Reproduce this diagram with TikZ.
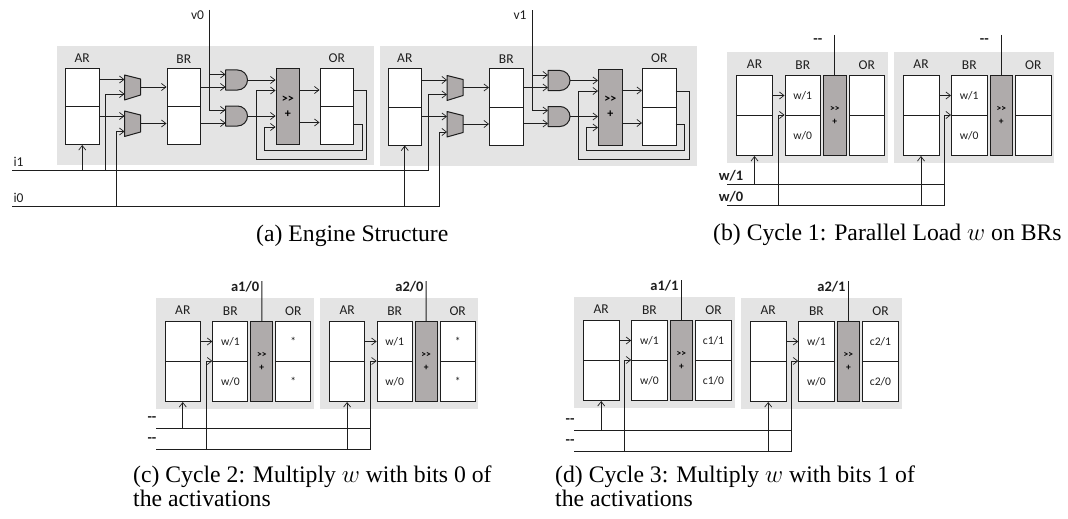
\documentclass[tikz,border=0pt]{standalone}
\usepackage{fontspec}
\usepackage{xcolor}
\usepackage{tikz}
\usetikzlibrary{calc,arrows.meta}
\setmainfont{Liberation Serif}
\newfontfamily\lblfont{Carlito}
\newcommand{\twodash}{-{}-}
\definecolor{panelbg}{HTML}{E4E4E4}
\definecolor{gatefill}{HTML}{AFABAB}
\definecolor{ink}{HTML}{1E1E1E}
\tikzset{
  panel/.style={fill=panelbg},
  wire/.style={draw=ink, line width=0.9pt},
  arr/.style={wire, -{Straight Barb[length=4.5pt,width=7pt,line width=0.7pt]}},
  cell/.style={draw=ink, fill=white, line width=1pt, anchor=north west, inner sep=0pt, minimum height=38pt, minimum width=33.5pt, lab},
  smallcell/.style={cell, minimum height=40pt},
  adder/.style={draw=ink, fill=gatefill, line width=1pt, anchor=north west, inner sep=0pt, align=center},
  gate/.style={draw=ink, fill=gatefill, line width=1pt, line join=round},
  lab/.style={text=ink, font=\lblfont\fontsize{11.6}{13}\selectfont},
  labb/.style={text=ink, font=\lblfont\fontsize{13.5}{15}\selectfont},
  labs/.style={text=ink, font=\lblfont\bfseries\fontsize{14.5}{15}\selectfont},
  captxt/.style={anchor=base west, align=left, inner sep=0pt, font=\fontsize{23.7}{24}\selectfont},
}
\begin{document}
\begin{tikzpicture}[x=1pt,y=-1pt]
  \useasboundingbox (0,0) rectangle (1068,519);
  % engine structure
  \foreach \n/\x/\yo/\vlab in {0/0/0/v0, 1/322.5/0.5/v1} {
    \begin{scope}[shift={(\x,\yo)}]
      \fill[panel] (57,46) rectangle (374,165);
      \node[cell] (arT\n) at (65,68) {};
      \node[cell] (arB\n) at (65,106) {};
      \node[cell] (brT\n) at (166.5,68) {};
      \node[cell] (brB\n) at (166.5,106) {};
      \node[cell] (orT\n) at (319.5,68) {};
      \node[cell] (orB\n) at (319.5,106) {};
      \node[adder, minimum width=23.5pt, minimum height=75.5pt, font=\lblfont\bfseries\fontsize{12}{15}\selectfont] (add\n) at (275.5,68.5) {>>\\+};
      \node[labb] (arL\n) at ($(arT\n.north)+(0,-10)$) {AR};
      \node[labb] (brL\n) at ($(brT\n.north)+(0,-9)$) {BR};
      \node[labb] (orL\n) at ($(orT\n.north)+(0,-10)$) {OR};
      % muxes and gates
      \draw[gate] (124.5,75) -- (140.5,79) -- (140.5,95) -- (124.5,100) -- cycle;
      \draw[gate] (124.5,111) -- (140.5,115) -- (140.5,132) -- (124.5,136.5) -- cycle;
      \draw[gate] (225.5,70) -- (237.5,70) arc[start angle=90,end angle=-90,radius=10pt] -- (225.5,90) -- cycle;
      \draw[gate] (225.5,106) -- (237.5,106) arc[start angle=90,end angle=-90,radius=10pt] -- (225.5,126) -- cycle;
      \coordinate (mAi\n) at (124.5,79.5);
      \coordinate (mAj\n) at (124.5,94);
      \coordinate (mAo\n) at (140.5,87);
      \coordinate (mBi\n) at (124.5,116);
      \coordinate (mBj\n) at (124.5,131.5);
      \coordinate (mBo\n) at (140.5,123.5);
      \coordinate (gAi\n) at (225.5,74.5);
      \coordinate (gAj\n) at (225.5,87);
      \coordinate (gAo\n) at (247.5,80);
      \coordinate (gBi\n) at (225.5,110);
      \coordinate (gBj\n) at (225.5,123);
      \coordinate (gBo\n) at (247.5,116);
      \coordinate (jA\n) at (105.5,94);
      \coordinate (jB\n) at (116.5,131.5);
      \coordinate (vt\n) at (209.5,10);
      \coordinate (sA\n) at (353,90.5);
      \coordinate (sB\n) at (353,124);
      \coordinate (fA\n) at (366.5,159);
      \coordinate (fB\n) at (362,150);
      \coordinate (iA\n) at (256,90.5);
      \coordinate (iB\n) at (264,127);
      \coordinate (oA\n) at (299,90);
      \coordinate (oB\n) at (299,122.5);
      \draw[arr] (arT\n.east |- mAi\n) -- (mAi\n);
      \draw[arr] (arB\n.east |- mBi\n) -- (mBi\n);
      \draw[arr] (mAo\n) -- (mAo\n -| brT\n.west);
      \draw[arr] (mBo\n) -- (mBo\n -| brB\n.west);
      \draw[arr] (brT\n.east |- gAj\n) -- (gAj\n);
      \draw[arr] (brB\n.east |- gBj\n) -- (gBj\n);
      \draw[arr] (gAo\n) -- (gAo\n -| add\n.west);
      \draw[arr] (gBo\n) -- (gBo\n -| add\n.west);
      \draw[arr] (oA\n) -- (oA\n -| orT\n.west);
      \draw[arr] (oB\n) -- (oB\n -| orB\n.west);
      \draw[arr] (vt\n) |- (gBi\n);
      \draw[arr] (vt\n |- gAi\n) -- (gAi\n);
      \draw[arr] (sA\n) -| (fA\n) -| (iA\n) -- (iA\n -| add\n.west);
      \draw[arr] (sB\n) -| (fB\n) -| (iB\n) -- (iB\n -| add\n.west);
      \node[labb, anchor=east] (vL\n) at ($(vt\n)+(-2,5)$) {\vlab};
    \end{scope}
  }
  \coordinate (iOne) at (12,170.5);
  \coordinate (iZero) at (12,206.5);
  \node[labb, anchor=west] (iOneL) at (10,162) {i1};
  \node[labb, anchor=west] (iZeroL) at (10,197.5) {i0};
  \draw[arr] (iOne) -| (jA1) -- (mAj1);
  \draw[arr] (iZero) -| (jB1) -- (mBj1);
  \draw[arr] (iOne -| jA0) -- (jA0) -- (mAj0);
  \draw[arr] (iZero -| jB0) -- (jB0) -- (mBj0);
  \draw[arr] (iOne -| arB0.south) -- (arB0.south);
  \draw[arr] (iZero -| arB1.south) -- (arB1.south);
  % cycle pictures
  \foreach \un/\x/\y/\sx/\oa/\ob/\toplab in {
    bA/727.3/52/1/{}/{}/\twodash, bB/893.8/52/1/{}/{}/\twodash,
    cA/156/298/0.985/{*}/{*}/{a1/0}, cB/320.3/298/0.985/{*}/{*}/{a2/0},
    dA/574/297/1/{c1/1}/{c1/0}/{a1/1}, dB/741/298/1/{c2/1}/{c2/0}/{a2/1}} {
    \begin{scope}[shift={(\x,\y)}, xscale=\sx]
      \fill[panel] (0,0) rectangle (160.5,111);
      \node[smallcell, minimum width=\sx*36pt] (ar\un T) at (8.7,23) {};
      \node[smallcell, minimum width=\sx*36pt] (ar\un B) at (8.7,63) {};
      \node[smallcell, minimum width=\sx*35.5pt] (br\un T) at (57.2,23) {w/1};
      \node[smallcell, minimum width=\sx*35.5pt] (br\un B) at (57.2,63) {w/0};
      \node[adder, minimum width=\sx*22.5pt, minimum height=80pt, font=\lblfont\bfseries\fontsize{9.5}{12.5}\selectfont] (add\un) at (95.7,23) {>>\\+};
      \node[smallcell, minimum width=\sx*35.5pt] (or\un T) at (121.2,23) {\oa};
      \node[smallcell, minimum width=\sx*35.5pt] (or\un B) at (121.2,63) {\ob};
      \node[labb] (arL\un) at ($(ar\un T.north)+(0,-11)$) {AR};
      \node[labb] (brL\un) at ($(br\un T.north)+(0,-10)$) {BR};
      \node[labb] (orL\un) at ($(or\un T.north)+(0,-10)$) {OR};
      \coordinate (top\un) at ($(add\un.north)+(0,-40)$);
      \draw[wire] (top\un) -- (add\un.north);
      \node[labs] (topL\un) at ($(top\un)+(-17,6)$) {\toplab};
      \coordinate (jog\un) at ($(br\un B.north west)+(-6.3,0)$);
      \draw[arr] (ar\un T.east) -- (br\un T.west);
    \end{scope}
  }
  % load lines
  \foreach \f/\ya/\yb/\xl/\lx/\la/\lb in {
    b/184/205/727/731/{w/1}/{w/0},
    c/428/449/156/152/\twodash/\twodash,
    d/430/451/574/570/\twodash/\twodash} {
    \coordinate (one\f) at (\xl,\ya);
    \coordinate (zero\f) at (\xl,\yb);
    \node[labs] (oneL\f) at ($(\lx,\ya)+(0,-8.5)$) {\la};
    \node[labs] (zeroL\f) at ($(\lx,\yb)+(0,-8.5)$) {\lb};
    \draw[arr] (one\f) -| (jog\f B) -- (br\f BB.north west);
    \draw[arr] (zero\f) -| (jog\f A) -- (br\f AB.north west);
    \draw[wire] (zero\f) -- (zero\f -| jog\f B) -- (one\f -| jog\f B);
    \draw[arr] (one\f -| ar\f AB.south) -- (ar\f AB.south);
    \draw[arr] (zero\f -| ar\f BB.south) -- (ar\f BB.south);
  }
  % captions
  \node[captxt] (capA) at (256,241.5) {(a) Engine Structure};
  \node[captxt] (capB) at (713,240) {(b) Cycle 1: Parallel Load $w$ on BRs};
  \node[captxt] (capC) at (133,506) {(c) Cycle 2: Multiply $w$ with bits 0 of\\the activations};
  \node[captxt] (capD) at (555,506) {(d) Cycle 3: Multiply $w$ with bits 1 of\\the activations};
\end{tikzpicture}
\end{document}
